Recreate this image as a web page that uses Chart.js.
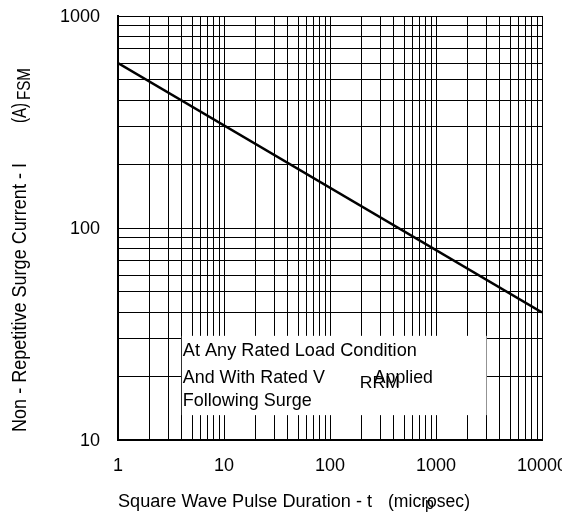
<!DOCTYPE html>
<html>
<head>
<meta charset="utf-8">
<script src="https://cdn.jsdelivr.net/npm/chart.js@4/dist/chart.umd.min.js"></script>
<style>
  body { margin: 0; background: #fff; }
  #surgeChart { display: block; }
</style>
</head>
<body>
<canvas id="surgeChart" width="562" height="512"></canvas>
<script>
// values (log-log, straight line)
const pulseDuration = [1, 10000];      // microsec
const surgeCurrent = [600, 40];        // A
const xTickLabels = [1, 10, 100, 1000, 10000];
const yTickLabels = [10, 100, 1000];
const noteLines = ["At Any Rated Load Condition", "And With Rated V", "Following Surge"];

const FONT = '"Liberation Sans", Arial, sans-serif';

// grid at 1..9 of every decade
function decadeGrid(min, max) {
    let vals = [];
    for (let d = min; d < max; d *= 10) {
        for (let k = 1; k < 10; k++) vals.push(d * k);
    }
    vals.push(max);
    return vals.map(v => ({ value: v }));
}

function putText(ctx, text, x, y, size, width) {
    ctx.font = size + "px " + FONT;
    let w = ctx.measureText(text).width;
    ctx.save();
    ctx.translate(x, y);
    if (width) ctx.scale(width / w, 1);
    ctx.fillText(text, 0, 0);
    ctx.restore();
}

const labelsPlugin = {
    id: "labels",
    beforeDatasetsDraw(chart) {
        // white note box hides the grid behind it
        let ctx = chart.ctx, xs = chart.scales.x, ys = chart.scales.y;
        let bx = xs.getPixelForValue(4), bx2 = xs.getPixelForValue(3000);
        let by = ys.getPixelForValue(31), by2 = ys.getPixelForValue(13.1);
        ctx.save();
        ctx.fillStyle = "#fff";
        ctx.fillRect(bx, by, bx2 - bx, by2 - by);
        ctx.fillStyle = "#000";
        ctx.textBaseline = "alphabetic";
        putText(ctx, noteLines[0], bx + 1, by + 20, 19, 234);
        putText(ctx, noteLines[1], bx + 1, by + 47, 19, 142);
        putText(ctx, "Applied", bx + 192, by + 47, 19, 59);
        putText(ctx, "RRM", bx + 178, by + 52, 17, 40);
        putText(ctx, noteLines[2], bx + 1, by + 70, 19, 129);
        ctx.restore();
    },
    afterDraw(chart) {
        let ctx = chart.ctx, xs = chart.scales.x, ys = chart.scales.y;
        ctx.save();
        ctx.fillStyle = "#000";
        // tick labels at the scale positions
        ctx.font = "18px " + FONT;
        ctx.textBaseline = "middle";
        ctx.textAlign = "center";
        xTickLabels.forEach(v => ctx.fillText(String(v), xs.getPixelForValue(v), chart.chartArea.bottom + 26));
        ctx.textAlign = "right";
        yTickLabels.forEach(v => ctx.fillText(String(v), chart.chartArea.left - 18, ys.getPixelForValue(v) + 1));
        ctx.textAlign = "left";
        ctx.textBaseline = "alphabetic";
        // x axis title
        putText(ctx, "Square Wave Pulse Duration - t", 118, 507, 18, 254);
        putText(ctx, "(microsec)", 388, 507, 18, 82);
        putText(ctx, "p", 425, 509, 16);
        // y axis title, rotated
        ctx.translate(26, 432);
        ctx.rotate(-Math.PI / 2);
        putText(ctx, "Non - Repetitive Surge Current - I", 0, 0, 21, 269);
        putText(ctx, "(A)", 309, 0, 21, 20);
        putText(ctx, "FSM", 332, 4, 18, 32);
        ctx.restore();
    }
};

let ctx = document.getElementById("surgeChart").getContext("2d");
new Chart(ctx, {
    type: "line",
    data: {
        datasets: [{
            data: pulseDuration.map((t, i) => ({ x: t, y: surgeCurrent[i] })),
            borderColor: "#000",
            borderWidth: 2.5,
            pointRadius: 0,
            fill: false,
            tension: 0
        }]
    },
    plugins: [labelsPlugin],
    options: {
        responsive: false,
        animation: false,
        layout: { padding: { top: 16, right: 20, left: 0, bottom: 0 } },
        plugins: {
            legend: { display: false },
            tooltip: { enabled: false }
        },
        scales: {
            x: {
                type: "logarithmic",
                min: 1,
                max: 10000,
                afterBuildTicks: s => { s.ticks = decadeGrid(1, 10000); },
                afterFit: s => { s.height = 72; },
                grid: { color: "#000", lineWidth: 1, drawTicks: false },
                border: { color: "#000", width: 2 },
                ticks: { display: false, autoSkip: false }
            },
            y: {
                type: "logarithmic",
                min: 10,
                max: 1000,
                afterBuildTicks: s => { s.ticks = decadeGrid(10, 1000); },
                afterFit: s => { s.width = 118; },
                grid: { color: "#000", lineWidth: 1, drawTicks: false },
                border: { color: "#000", width: 2 },
                ticks: { display: false, autoSkip: false }
            }
        }
    }
});
</script>
</body>
</html>
